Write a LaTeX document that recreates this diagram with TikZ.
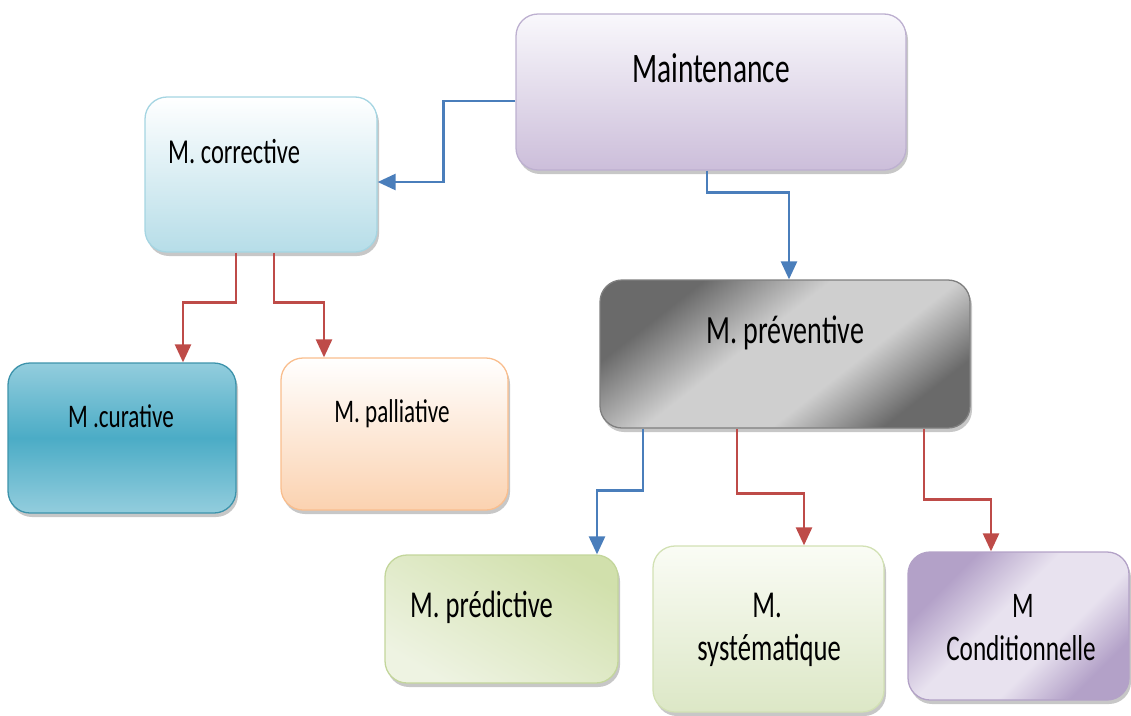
\documentclass[tikz,border=0pt]{standalone}
\usepackage{fontspec}
\setmainfont{Carlito}[FakeStretch=0.7]
\usetikzlibrary{arrows.meta,shadows,calc}
\definecolor{lineblue}{HTML}{4A7EBB}
\definecolor{linered}{HTML}{BE4B48}
\definecolor{mainTop}{HTML}{F9F8FC}
\definecolor{mainBot}{HTML}{CCBEDA}
\definecolor{mainBd}{HTML}{BDB0D0}
\definecolor{corrBot}{HTML}{B6DDE8}
\definecolor{corrBd}{HTML}{A5D5E2}
\definecolor{curEdge}{HTML}{93CDDD}
\definecolor{curMid}{HTML}{4BACC6}
\definecolor{curBd}{HTML}{3D93AB}
\definecolor{pallBot}{HTML}{FBD2B0}
\definecolor{pallBd}{HTML}{F9BE8E}
\definecolor{prevDark}{HTML}{6A6A6A}
\definecolor{prevLight}{HTML}{CFCFCF}
\definecolor{prevBd}{HTML}{7F7F7F}
\definecolor{predDark}{HTML}{D1E0AC}
\definecolor{predLight}{HTML}{EEF3E2}
\definecolor{predBd}{HTML}{C3D69B}
\definecolor{sysTop}{HTML}{FAFCF5}
\definecolor{sysBot}{HTML}{DCE7C6}
\definecolor{sysBd}{HTML}{D2E1B4}
\definecolor{condDark}{HTML}{B3A1C8}
\definecolor{condLight}{HTML}{E8E2EF}
\definecolor{condBd}{HTML}{B3A2C7}
\pgfdeclarehorizontalshading{prevsh}{100bp}{color(0bp)=(prevDark); color(28bp)=(prevDark); color(44bp)=(prevLight); color(60bp)=(prevLight); color(74bp)=(prevDark); color(100bp)=(prevDark)}
\pgfdeclarehorizontalshading{condsh}{100bp}{color(0bp)=(condDark); color(28bp)=(condDark); color(44bp)=(condLight); color(60bp)=(condLight); color(74bp)=(condDark); color(100bp)=(condDark)}
\tikzset{
  box/.style={draw, rounded corners=22pt, inner sep=0pt, line width=1.3pt,
    drop shadow={shadow xshift=2pt, shadow yshift=-4pt, opacity=0.4, fill=black!55}},
  lbl/.style={inner sep=0pt, text=black},
  conn/.style={line width=2.6pt, -{Triangle[width=16pt,length=18pt]}},
  bconn/.style={conn, draw=lineblue},
  rconn/.style={conn, draw=linered}
}
\begin{document}
\begin{tikzpicture}[x=1pt,y=-1pt]
\useasboundingbox (0,0) rectangle (1131,715);
% boxes
\node[box, draw=mainBd, top color=mainTop, bottom color=mainBot,
  minimum width=390pt, minimum height=156pt] (main) at (711,92) {};
\node[box, draw=corrBd, top color=white, bottom color=corrBot,
  minimum width=232pt, minimum height=155pt] (corr) at (261,174.5) {};
\node[box, draw=curBd, top color=curEdge, bottom color=curEdge, middle color=curMid,
  minimum width=228pt, minimum height=150pt] (cur) at (122,438) {};
\node[box, draw=pallBd, top color=white, bottom color=pallBot,
  minimum width=227pt, minimum height=152pt] (pall) at (394.5,434) {};
\node[box, draw=prevBd, shading=prevsh, shading angle=-52,
  minimum width=370pt, minimum height=148pt] (prev) at (785,354) {};
\node[box, draw=predBd, left color=predDark, right color=predLight, middle color=predDark!50!predLight,
  shading angle=-30, minimum width=233pt, minimum height=128pt] (pred) at (501.5,619) {};
\node[box, draw=sysBd, top color=sysTop, bottom color=sysBot,
  minimum width=231pt, minimum height=166pt] (sys) at (768.5,629) {};
\node[box, draw=condBd, shading=condsh, shading angle=-45,
  minimum width=221pt, minimum height=148pt] (cond) at (1018.5,626) {};
% texts
\node[lbl, anchor=base, font=\fontsize{42}{50}\selectfont] (tmain) at (711,82) {Maintenance};
\node[lbl, anchor=base west, font=\fontsize{35}{42}\selectfont] (tcorr) at (168,163) {M. corrective};
\node[lbl, anchor=base, font=\fontsize{33}{40}\selectfont] (tcur) at (121,427) {M .curative};
\node[lbl, anchor=base, font=\fontsize{33}{40}\selectfont] (tpall) at (392,422) {M. palliative};
\node[lbl, anchor=base, font=\fontsize{40}{48}\selectfont] (tprev) at (785,343) {M. préventive};
\node[lbl, anchor=base west, font=\fontsize{38}{46}\selectfont] (tpred) at (410,617) {M. prédictive};
\node[lbl, anchor=base, font=\fontsize{38}{46}\selectfont] (tsysa) at (767,617) {M.};
\node[lbl, anchor=base, font=\fontsize{38}{46}\selectfont] (tsysb) at (769,660) {systématique};
\node[lbl, anchor=base, font=\fontsize{36}{44}\selectfont] (tconda) at (1023,617) {M};
\node[lbl, anchor=base, font=\fontsize{36}{44}\selectfont] (tcondb) at (1021,660) {Conditionnelle};
% connectors
\draw[bconn] ([yshift=-9pt]main.west) -- ++(-72,0) |- ([yshift=-7.5pt]corr.east);
\draw[bconn] ([xshift=-4pt]main.south) -- ++(0,22) -| ([xshift=4pt]prev.north);
\draw[rconn] ([xshift=-25pt]corr.south) -- ++(0,50) -| ([xshift=61pt]cur.north);
\draw[rconn] ([xshift=13pt]corr.south) -- ++(0,50) -| ([xshift=-70.5pt]pall.north);
\draw[bconn] ([xshift=-142pt]prev.south) -- ++(0,62) -| ([xshift=95.5pt]pred.north);
\draw[rconn] ([xshift=-48pt]prev.south) -- ++(0,65) -| ([xshift=35.5pt]sys.north);
\draw[rconn] ([xshift=139pt]prev.south) -- ++(0,71) -| ([xshift=-27.5pt]cond.north);
\end{tikzpicture}
\end{document}
